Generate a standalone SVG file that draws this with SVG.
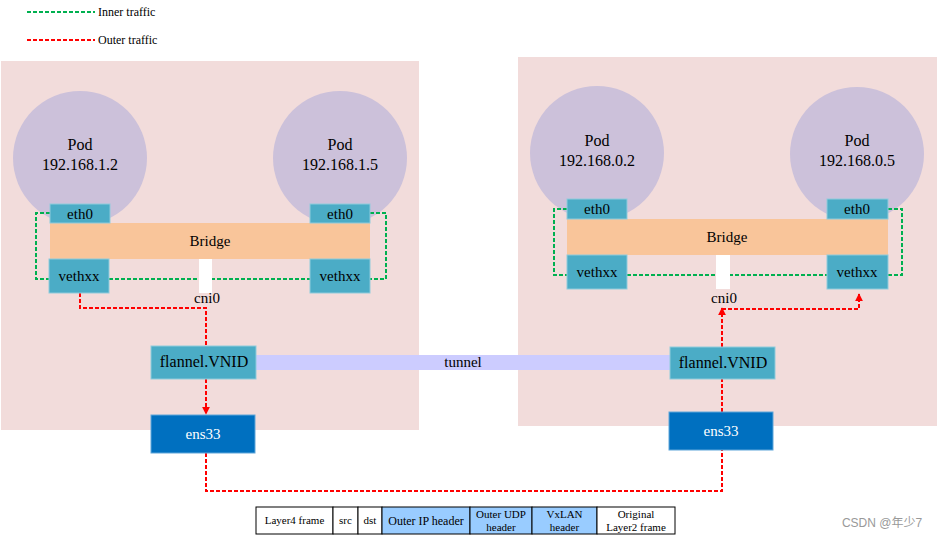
<svg xmlns="http://www.w3.org/2000/svg" width="938" height="539" viewBox="0 0 938 539" font-family="'Liberation Serif', 'Times New Roman', serif">
<style>
text{font-family:'Liberation Serif','Times New Roman',serif;fill:#000;text-anchor:middle}
.panel{fill:#F2DCDB}
.pod{fill:#CCC1DA}
.nic{fill:#4BACC6;stroke:#8FCBDC;stroke-width:1}
.br{fill:#F9C59A}
.ens{fill:#0070C0;stroke:#5FA6DA;stroke-width:1}
.t16{font-size:16px}
.t15{font-size:15px}
.g{fill:none;stroke:#00B050;stroke-width:2;stroke-dasharray:4 2}
.r{fill:none;stroke:#FF0000;stroke-width:2;stroke-dasharray:4 2}
.cell{stroke:#000;stroke-width:1}
.tb{font-size:11px}
</style>
<defs>
<marker id="ah" viewBox="0 0 10 10" refX="9" refY="5" markerWidth="4" markerHeight="4" orient="auto" markerUnits="strokeWidth">
<path d="M0,0 L10,5 L0,10 z" fill="#FF0000"/>
</marker>
</defs>
<rect width="938" height="539" fill="#fff"/>

<g id="legend">
<line x1="27" y1="12" x2="95" y2="12" class="g"/>
<text x="98" y="16" font-size="12" style="text-anchor:start">Inner traffic</text>
<line x1="27" y1="40" x2="95" y2="40" class="r"/>
<text x="98" y="44" font-size="12" style="text-anchor:start">Outer traffic</text>
</g>

<g id="host-left">
<rect class="panel" x="1" y="61" width="418" height="369"/>
</g>
<g id="host-right">
<rect class="panel" x="518" y="57" width="419" height="369"/>
</g>

<g id="pod-1-2">
<circle class="pod" cx="80" cy="158" r="67"/>
<text class="t16" x="80" y="150">Pod</text>
<text class="t16" x="80" y="170">192.168.1.2</text>
</g>
<g id="pod-1-5">
<circle class="pod" cx="340" cy="158" r="67"/>
<text class="t16" x="340" y="150">Pod</text>
<text class="t16" x="340" y="170">192.168.1.5</text>
</g>
<g id="pod-0-2">
<circle class="pod" cx="597" cy="153" r="67"/>
<text class="t16" x="597" y="146">Pod</text>
<text class="t16" x="597" y="166">192.168.0.2</text>
</g>
<g id="pod-0-5">
<circle class="pod" cx="857" cy="154" r="67"/>
<text class="t16" x="857" y="146">Pod</text>
<text class="t16" x="857" y="166">192.168.0.5</text>
</g>

<g id="connectors">
<path class="g" d="M50,213 H36 V279 H49"/>
<path class="g" d="M109,279 H310"/>
<path class="g" d="M370,213 H386 V279 H370"/>
<path class="g" d="M567,209 H554 V275 H567"/>
<path class="g" d="M627,275 H827"/>
<path class="g" d="M888,209 H902 V275 H888"/>
<path class="r" d="M80,293 V308 H206 V346"/>
<path class="r" d="M206,379 V414" marker-end="url(#ah)"/>
<path class="r" d="M206,453 V491 H722 V450"/>
<path class="r" d="M722,412 V379"/>
<path class="r" d="M722,347 V308" marker-end="url(#ah)"/>
<path class="r" d="M722,309 H859 V294" marker-end="url(#ah)"/>
</g>

<g id="bridge-left">
<rect class="br" x="50" y="223" width="320" height="36"/>
<text class="t15" x="210" y="246">Bridge</text>
</g>
<g id="eth0-1-2"><rect class="nic" x="50" y="204" width="60" height="19"/><text class="t15" x="80" y="219">eth0</text></g>
<g id="eth0-1-5"><rect class="nic" x="310" y="204" width="60" height="19"/><text class="t15" x="340" y="219">eth0</text></g>
<g id="veth-1-2"><rect class="nic" x="49" y="259" width="60" height="34"/><text class="t15" x="79" y="281">vethxx</text></g>
<g id="veth-1-5"><rect class="nic" x="310" y="259" width="60" height="34"/><text class="t15" x="340" y="281">vethxx</text></g>
<g id="cni0-left"><rect x="199" y="259" width="13" height="34" fill="#fff"/><text class="t15" x="207" y="303">cni0</text></g>

<g id="bridge-right">
<rect class="br" x="567" y="219" width="321" height="36"/>
<text class="t15" x="727" y="242">Bridge</text>
</g>
<g id="eth0-0-2"><rect class="nic" x="567" y="199" width="60" height="20"/><text class="t15" x="597" y="214">eth0</text></g>
<g id="eth0-0-5"><rect class="nic" x="827" y="199" width="61" height="20"/><text class="t15" x="857" y="214">eth0</text></g>
<g id="veth-0-2"><rect class="nic" x="567" y="255" width="60" height="34"/><text class="t15" x="597" y="277">vethxx</text></g>
<g id="veth-0-5"><rect class="nic" x="827" y="255" width="61" height="34"/><text class="t15" x="857" y="277">vethxx</text></g>
<g id="cni0-right"><rect x="716" y="255" width="14" height="34" fill="#fff"/><text class="t15" x="724" y="303">cni0</text></g>

<g id="tunnel">
<rect x="256" y="355" width="414" height="15" fill="#CCCCFF"/>
<text class="t15" x="463" y="367">tunnel</text>
</g>
<g id="flannel-left"><rect class="nic" x="151" y="346" width="105" height="33"/><text class="t16" x="204" y="367">flannel.VNID</text></g>
<g id="flannel-right"><rect class="nic" x="670" y="347" width="105" height="32"/><text class="t16" x="723" y="368">flannel.VNID</text></g>
<g id="ens33-left"><rect class="ens" x="151" y="415" width="104" height="38"/><text class="t15" x="203" y="439" style="fill:#fff">ens33</text></g>
<g id="ens33-right"><rect class="ens" x="669" y="412" width="104" height="38"/><text class="t15" x="721" y="436" style="fill:#fff">ens33</text></g>

<g id="frame-table">
<rect class="cell" x="256" y="507" width="77" height="27" fill="#fff"/>
<rect class="cell" x="333" y="507" width="25" height="27" fill="#fff"/>
<rect class="cell" x="358" y="507" width="24" height="27" fill="#fff"/>
<rect class="cell" x="382" y="507" width="88" height="27" fill="#99CCFF"/>
<rect class="cell" x="470" y="507" width="62" height="27" fill="#99CCFF"/>
<rect class="cell" x="532" y="507" width="65" height="27" fill="#99CCFF"/>
<rect class="cell" x="597" y="507" width="78" height="27" fill="#fff"/>
<text class="tb" x="294.5" y="524">Layer4 frame</text>
<text class="tb" x="345.5" y="524">src</text>
<text class="tb" x="370" y="524">dst</text>
<text x="426" y="525" font-size="12">Outer IP header</text>
<text class="tb" x="501" y="518">Outer UDP</text>
<text class="tb" x="501" y="531">header</text>
<text class="tb" x="564.5" y="518">VxLAN</text>
<text class="tb" x="564.5" y="531">header</text>
<text class="tb" x="636" y="518">Original</text>
<text class="tb" x="636" y="531">Layer2 frame</text>
</g>

<text x="882" y="527" font-size="12" style="font-family:'Liberation Sans','Noto Sans CJK SC',sans-serif;fill:#999">CSDN @年少7</text>
</svg>
